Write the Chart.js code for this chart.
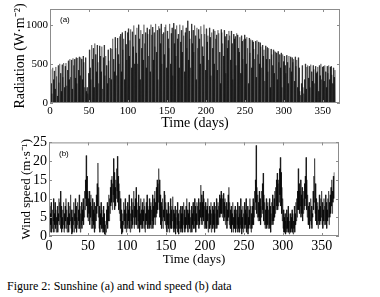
<!DOCTYPE html>
<html>
<head>
<meta charset="utf-8">
<script src="https://cdn.jsdelivr.net/npm/chart.js@4/dist/chart.umd.min.js"></script>
<style>
  body { margin: 0; background: #fff; }
  #wrap { position: relative; width: 380px; height: 297px; overflow: hidden; }
  canvas { position: absolute; left: 0; }
  #radChart { top: 0; }
  #windChart { top: 132px; }
  #caption {
    position: absolute; left: 7px; top: 279px;
    font: 12px "Liberation Serif", serif; color: #000; white-space: nowrap;
  }
</style>
</head>
<body>
<div id="wrap">
  <canvas id="radChart" width="380" height="132"></canvas>
  <canvas id="windChart" width="380" height="135"></canvas>
  <div id="caption">Figure 2: Sunshine (a) and wind speed (b) data</div>
</div>
<script>
// daily peak radiation (W/m2)
const radPeak = [
  430, 250, 120, 450, 300, 410, 180, 460, 340, 90,
  480, 260, 500, 380, 150, 490, 330, 510, 200, 470,
  510, 220, 420, 540, 300, 560, 330, 550, 180, 570,
  480, 560, 320, 580, 250, 575, 420, 590, 350, 580,
  560, 300, 600, 520, 200, 580, 150, 200, 120, 380,
  680, 450, 300, 740, 560, 700, 200, 760, 620, 400,
  740, 520, 250, 730, 600, 400, 720, 180, 580, 740,
  350, 600, 480, 250, 680, 540, 320, 700, 300, 690,
  820, 560, 400, 840, 700, 350, 830, 620, 500, 850,
  880, 400, 900, 680, 820, 300, 920, 750, 550, 900,
  950, 600, 800, 940, 450, 910, 720, 990, 500, 870,
  640, 960, 500, 1000, 820, 300, 930, 700, 880, 550,
  1000, 760, 900, 450, 960, 880, 600, 940, 400, 1000,
  870, 970, 550, 900, 720, 1010, 650, 930, 300, 980,
  950, 760, 1010, 500, 880, 900, 620, 970, 1000, 450,
  920, 820, 700, 1010, 500, 890, 960, 350, 1020, 760,
  940, 600, 990, 820, 880, 450, 1000, 780, 930, 650,
  990, 860, 400, 900, 960, 700, 1050, 550, 920, 820,
  450, 1010, 760, 930, 650, 990, 860, 300, 960, 700,
  940, 820, 500, 980, 880, 720, 600, 1000, 880, 420,
  950, 780, 860, 550, 960, 840, 350, 900, 700, 940,
  500, 920, 820, 870, 420, 930, 890, 650, 250, 940,
  900, 760, 600, 930, 850, 380, 880, 700, 800, 920,
  860, 550, 920, 760, 300, 880, 820, 850, 480, 890,
  870, 700, 650, 840, 380, 860, 790, 560, 810, 870,
  820, 500, 840, 700, 250, 830, 640, 810, 450, 800,
  780, 690, 560, 790, 330, 800, 620, 780, 500, 770,
  720, 450, 740, 600, 680, 280, 730, 560, 710, 400,
  700, 560, 200, 690, 620, 480, 680, 380, 660, 650,
  640, 300, 660, 520, 620, 450, 640, 200, 620, 530,
  600, 480, 380, 610, 520, 250, 600, 450, 590, 400,
  580, 520, 560, 280, 590, 470, 550, 200, 580, 450,
  150, 100, 250, 480, 200, 120, 300, 500, 180, 460,
  480, 320, 470, 200, 490, 400, 280, 480, 430, 250,
  470, 380, 400, 460, 150, 480, 350, 500, 300, 460,
  470, 280, 480, 400, 200, 470, 380, 480, 300, 460,
  470, 360, 250, 450, 330, 420
];

// daily high / low wind speed (m/s)
const windHi = [
  8, 6, 9, 5, 7, 10, 6, 9, 7, 5,
  8, 6, 10, 9, 12, 8, 5, 7, 9, 6,
  8, 10, 7, 5, 9, 6, 8, 11, 7, 5,
  7, 9, 6, 10, 8, 5, 9, 7, 11, 8,
  6, 9, 7, 10, 8, 12, 15, 21.5, 16, 12,
  10, 12, 9, 11, 8, 10, 7, 9, 6, 8,
  11, 14, 19.5, 13, 8, 6, 9, 7, 5, 8,
  6, 4, 3, 7, 9, 8, 11, 10, 13, 15,
  16, 14, 20.7, 17, 13, 15, 18, 21.3, 16, 14,
  12, 10, 7, 4, 6, 9, 7, 10, 8, 6,
  9, 7, 11, 8, 6, 10, 7, 9, 12, 8,
  10, 13, 9, 7, 11, 8, 6, 10, 7, 9,
  7, 10, 8, 6, 9, 11, 8, 7, 10, 8,
  9, 7, 11, 8, 10, 12, 9, 13, 15, 14,
  18, 15, 11, 9, 8, 10, 7, 12, 11, 9,
  7, 6, 9, 8, 6, 10, 7, 8, 10.5, 7,
  6, 8, 5, 7, 9, 6, 4, 7, 8, 6,
  8, 6, 9, 7, 5, 8, 10, 7, 6, 9,
  7, 5, 8, 6, 9, 7, 10, 8, 6, 9,
  8, 10, 7, 9, 13.6, 11, 9, 12, 10, 8,
  9, 7, 8, 10, 6, 8, 7, 9, 6, 8,
  7, 9, 6, 8, 10, 7, 9, 8, 11, 10,
  12, 11, 10, 11.4, 9, 10, 8, 9, 7, 11,
  13, 9, 7, 8, 6, 9, 5, 7, 8, 6,
  7, 9, 5, 8, 6, 10, 7, 5, 8, 6,
  9, 7, 10, 6, 8, 5, 7, 10, 8, 6,
  8, 10, 9, 12, 15, 24.2, 13, 11, 9, 12,
  10, 8, 12, 14, 16.8, 11, 9, 7, 10, 8,
  9, 7, 10, 8, 6, 9, 11, 8, 10, 12,
  13, 15, 16.8, 14, 15, 18, 21, 17, 13, 10,
  7, 5, 6, 4, 7, 5, 8, 6, 4, 6,
  5, 7, 6, 4, 8, 6, 9, 10, 12, 18,
  14, 12, 15, 11, 13, 10, 12, 14, 16, 21,
  15, 11, 8, 9, 7, 10, 8, 6, 12, 16,
  20.7, 14, 10, 8, 9, 7, 11, 8, 10, 12,
  9, 7, 10, 8, 11, 9, 7, 10, 12, 9,
  11, 13, 15, 12, 16, 17
];
const windLo = [
  2, 1, 3, 1, 2, 4, 1, 3, 2, 1,
  3, 1, 4, 3, 5, 2, 1, 2, 3, 1,
  2, 4, 2, 1, 3, 1, 3, 4, 2, 0.5,
  1, 3, 1, 4, 2, 1, 3, 2, 4, 2,
  1, 3, 2, 4, 3, 5, 7, 10, 8, 5,
  4, 6, 3, 5, 2, 4, 2, 3, 1, 2,
  4, 6, 8, 5, 2, 1, 3, 2, 1, 2,
  1, 0.5, 0.3, 1, 3, 2, 4, 4, 6, 8,
  9, 7, 11, 9, 7, 8, 10, 12, 9, 7,
  6, 4, 2, 0.5, 1, 3, 2, 4, 2, 1,
  3, 2, 4, 2, 1, 4, 2, 3, 5, 2,
  3, 5, 3, 2, 4, 2, 1, 3, 2, 3,
  2, 4, 2, 1, 3, 4, 2, 2, 3, 2,
  3, 2, 4, 2, 3, 5, 3, 5, 6, 7,
  9, 7, 5, 3, 2, 4, 2, 5, 4, 3,
  2, 1, 3, 2, 1, 3, 2, 2, 4, 2,
  1, 2, 0.5, 2, 3, 1, 0.5, 2, 2, 1,
  2, 1, 3, 2, 1, 2, 3, 2, 1, 3,
  2, 1, 2, 1, 3, 2, 4, 2, 1, 3,
  3, 4, 2, 3, 5, 4, 3, 5, 4, 2,
  3, 2, 2, 4, 1, 2, 2, 3, 1, 2,
  2, 3, 1, 2, 3, 2, 3, 3, 5, 5,
  6, 6, 5, 6, 4, 5, 3, 4, 2, 4,
  5, 3, 2, 2, 1, 3, 1, 2, 2, 1,
  2, 3, 1, 2, 1, 3, 2, 0.5, 2, 1,
  3, 2, 3, 1, 2, 0.5, 2, 3, 2, 1,
  2, 3, 3, 5, 7, 9, 6, 5, 4, 5,
  4, 3, 5, 6, 7, 4, 3, 2, 3, 2,
  3, 2, 3, 2, 1, 3, 4, 3, 4, 5,
  6, 7, 8, 7, 8, 9, 11, 8, 6, 4,
  2, 1, 1, 0.5, 2, 1, 2, 1, 0.5, 1,
  1, 2, 1, 0.5, 2, 1, 3, 4, 5, 7,
  7, 6, 8, 5, 6, 4, 6, 7, 8, 10,
  7, 5, 3, 3, 2, 4, 3, 2, 5, 7,
  9, 6, 4, 3, 3, 2, 4, 3, 4, 5,
  3, 2, 4, 3, 4, 3, 2, 4, 5, 3,
  5, 6, 8, 6, 9, 10
];

const dayTicks = [0, 50, 100, 150, 200, 250, 300, 350];
const radTicks = [0, 500, 1000];
const windTicks = [0, 5, 10, 15, 20, 25];
const panelLabels = ['(a)', '(b)'];
const xTitle = 'Time (days)';
const radTitle = 'Radiation (W\u00b7m\u207b\u00b2)';
const windTitle = 'Wind speed (m\u00b7s\u207b\u00b9)';

// each day: night zero, then the day's peak
const radPoints = [];
radPeak.forEach((p, d) => {
  radPoints.push({x: d, y: 0}, {x: d + 0.5, y: p});
});
radPoints.push({x: radPeak.length, y: 0});

const windPoints = [];
windHi.forEach((h, d) => {
  windPoints.push({x: d + 0.25, y: windLo[d]}, {x: d + 0.75, y: h});
});

// box frame with inward ticks on all sides, plus panel letter
const boxPlugin = {
  id: 'box',
  afterDraw(chart, args, opts) {
    const {ctx, chartArea: a, scales: {x, y}} = chart;
    ctx.save();
    ctx.strokeStyle = '#8c8c8c';
    ctx.lineWidth = 1;
    ctx.strokeRect(a.left + 0.5, a.top + 0.5, a.right - a.left - 1, a.bottom - a.top - 1);
    ctx.beginPath();
    x.ticks.forEach(t => {
      const px = Math.round(x.getPixelForValue(t.value)) + 0.5;
      ctx.moveTo(px, a.bottom); ctx.lineTo(px, a.bottom - 3);
      ctx.moveTo(px, a.top); ctx.lineTo(px, a.top + 3);
    });
    y.ticks.forEach(t => {
      const py = Math.round(y.getPixelForValue(t.value)) + 0.5;
      ctx.moveTo(a.left, py); ctx.lineTo(a.left + 3, py);
      ctx.moveTo(a.right, py); ctx.lineTo(a.right - 3, py);
    });
    ctx.stroke();
    ctx.fillStyle = '#000';
    ctx.font = '8px "Liberation Sans", sans-serif';
    ctx.textBaseline = 'middle';
    ctx.fillText(opts.label, a.left + 10, a.top + 11);
    ctx.restore();
  }
};

function makeChart(id, points, o) {
  const ctx = document.getElementById(id).getContext('2d');
  return new Chart(ctx, {
    type: 'line',
    data: {
      datasets: [{
        data: points,
        borderColor: o.color,
        borderWidth: o.lineWidth,
        pointRadius: 0,
        tension: 0,
        fill: false,
        // alternate a near-identical colour so every segment is stroked on its own
        // and overlapping strokes build up darker, like the dense original trace
        segment: {
          borderColor: c => (c.p0DataIndex % 2 ? o.color : o.color2)
        }
      }]
    },
    options: {
      responsive: false,
      animation: false,
      normalized: true,
      layout: { padding: o.padding },
      plugins: {
        legend: { display: false },
        tooltip: { enabled: false },
        box: { label: o.label }
      },
      scales: {
        x: {
          type: 'linear',
          min: 0,
          max: 372,
          grid: { display: false, drawTicks: false },
          border: { display: false },
          afterBuildTicks: axis => { axis.ticks = dayTicks.map(v => ({value: v})); },
          ticks: {
            maxRotation: 0,
            autoSkip: false,
            padding: 2,
            color: '#000',
            callback: v => String(v),
            font: { family: 'Liberation Serif', size: o.tickSize }
          },
          title: {
            display: true,
            text: xTitle,
            color: '#000',
            padding: 0,
            font: { family: 'Liberation Serif', size: o.xTitleSize }
          },
          afterFit: axis => { axis.height = o.xHeight; }
        },
        y: {
          min: 0,
          max: o.yMax,
          grid: { display: false, drawTicks: false },
          border: { display: false },
          afterBuildTicks: axis => { axis.ticks = o.yTicks.map(v => ({value: v})); },
          ticks: {
            autoSkip: false,
            padding: 2,
            color: '#000',
            callback: v => String(v),
            font: { family: 'Liberation Serif', size: o.tickSize }
          },
          title: {
            display: true,
            text: o.yTitle,
            color: '#000',
            padding: o.yTitlePad,
            font: { family: 'Liberation Serif', size: o.yTitleSize }
          },
          afterFit: axis => { axis.width = o.yWidth; }
        }
      }
    },
    plugins: [boxPlugin]
  });
}

makeChart('radChart', radPoints, {
  color: 'rgba(0,0,0,0.5)', color2: 'rgba(2,2,2,0.5)', lineWidth: 0.8,
  padding: { top: 9, right: 40, left: 0, bottom: 0 },
  label: panelLabels[0],
  tickSize: 11, xTitleSize: 14, xHeight: 29,
  yMax: 1200, yTicks: radTicks, yTitle: radTitle, yTitlePad: 12, yTitleSize: 14, yWidth: 50
});

makeChart('windChart', windPoints, {
  color: 'rgba(0,0,0,0.6)', color2: 'rgba(2,2,2,0.6)', lineWidth: 0.9,
  padding: { top: 10, right: 41, left: 0, bottom: 0 },
  label: panelLabels[1],
  tickSize: 14, xTitleSize: 13, xHeight: 31,
  yMax: 25, yTicks: windTicks, yTitle: windTitle, yTitlePad: 19, yTitleSize: 13, yWidth: 49
});
</script>
</body>
</html>
